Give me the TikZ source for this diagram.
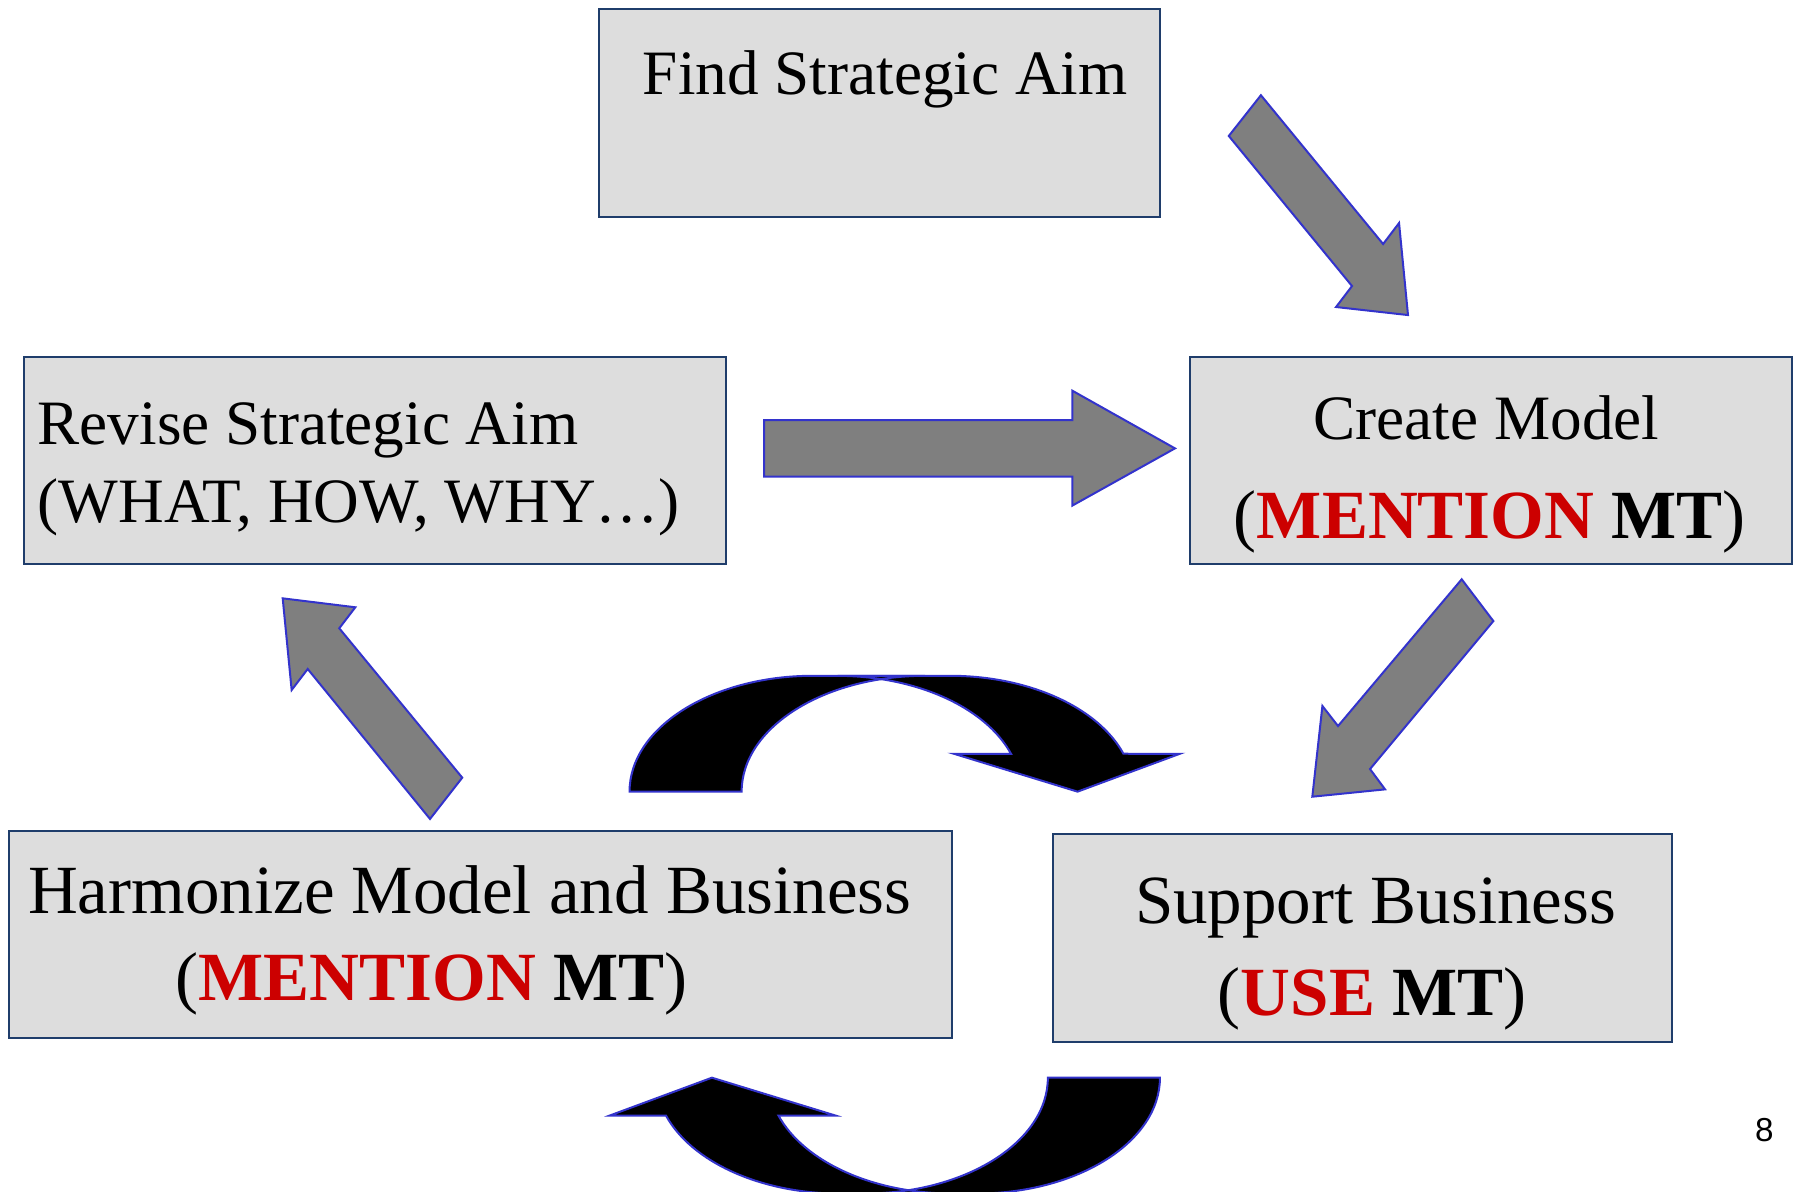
\documentclass[tikz,border=0pt]{standalone}
\usepackage{fontspec}
\setmainfont{Liberation Serif}
\newfontfamily\pagenofont{Liberation Sans}
\definecolor{boxfill}{HTML}{DDDDDD}
\definecolor{boxline}{HTML}{1F3D6B}
\definecolor{arrline}{HTML}{3333CC}
\definecolor{arrgray}{HTML}{7F7F7F}
\definecolor{hired}{HTML}{CC0000}
\newcommand{\smallsz}{\fontsize{31.6}{38}\selectfont}
\newcommand{\bigsz}{\fontsize{34.5}{41}\selectfont}
\begin{document}
\begin{tikzpicture}[x=0.5737pt,y=-0.5737pt,
  stepbox/.style={draw=boxline,fill=boxfill,line width=1pt},
  blockarrow/.style={draw=arrline,fill=arrgray,line width=1pt,line join=miter},
  txt/.style={inner sep=0pt,anchor=base},
  leftband/.style={insert path={(548.7,690) arc[start angle=180,end angle=270,x radius=160,y radius=101] -- (806.4,589) arc[start angle=270,end angle=180,x radius=160,y radius=101] -- cycle}},
  rightband/.style={insert path={(828,589) arc[start angle=270,end angle=340.9,x radius=160,y radius=101] -- (1028.3,657) -- (939.2,690) -- (831.5,657) -- (881.2,657) arc[start angle=340.9,end angle=270,x radius=160,y radius=101] -- cycle}}
]
\useasboundingbox (0,0) rectangle (1568,1038.9);

% boxes
\draw[stepbox] (522,8) rectangle (1011,189) coordinate (findSE);
\node[inner sep=0pt] (find) at (766.5,98.5) {};
\draw[stepbox] (21,311) rectangle (633,492);
\node[inner sep=0pt] (revise) at (327,401.5) {};
\draw[stepbox] (1037,311) rectangle (1562,492);
\node[inner sep=0pt] (create) at (1299.5,401.5) {};
\draw[stepbox] (8,724) rectangle (830,905);
\node[inner sep=0pt] (harm) at (419,814.5) {};
\draw[stepbox] (918,727) rectangle (1457,908);
\node[inner sep=0pt] (support) at (1187.5,817.5) {};

% texts
\node[txt] (t1) at (771.5,82.8) {\smallsz Find Strategic Aim};
\node[txt,anchor=base west] (t2a) at (32.5,387) {\smallsz Revise Strategic Aim};
\node[txt,anchor=base west] (t2b) at (32.5,455.6) {\smallsz (WHAT, HOW, WHY\ldots)};
\node[txt] (t3a) at (1295.5,383) {\smallsz Create Model};
\node[txt] (t3b) at (1298.5,469.2) {\bigsz (\textbf{\textcolor{hired}{MENTION} MT})};
\node[txt] (t4a) at (409.5,796) {\bigsz Harmonize Model and Business};
\node[txt] (t4b) at (376,872) {\bigsz (\textbf{\textcolor{hired}{MENTION} MT})};
\node[txt] (t5a) at (1199,805) {\bigsz Support Business};
\node[txt] (t5b) at (1196,885) {\bigsz (\textbf{\textcolor{hired}{USE} MT})};
\node[txt] (pg) at (1537.8,994.5) {\pagenofont\fontsize{16.6}{20}\selectfont 8};

% gray block arrows
\path[blockarrow] (1099,83) -- (1205.5,212.7) -- (1219.4,194.4) -- (1227.2,274.6) -- (1164.5,267.6) -- (1178.4,249.3) -- (1071,118.5) -- cycle;
\path[blockarrow] (666,366.1) -- (934.6,366.1) -- (934.6,340.5) -- (1024.1,390.8) -- (934.6,440.7) -- (934.6,415.5) -- (666,415.5) -- cycle;
\path[blockarrow] (1274,504.9) -- (1301.6,541.3) -- (1194.1,670.3) -- (1207.2,688) -- (1143.8,694.4) -- (1152.6,615.3) -- (1166.2,632.8) -- cycle;
\path[blockarrow] (402.9,677.8) -- (295.7,547.6) -- (309.7,529.3) -- (246.4,521.5) -- (254.2,601.4) -- (268.2,583.1) -- (374.8,713.8) -- cycle;

% curved black arrows
\foreach \r in {0,180}{
  \begin{scope}[rotate around={\r:(779.85,814.65)}]
    \fill[black,leftband];
    \fill[black,rightband];
    \draw[arrline,line width=1pt,leftband];
    \draw[arrline,line width=1pt,rightband];
  \end{scope}
}
\end{tikzpicture}
\end{document}
